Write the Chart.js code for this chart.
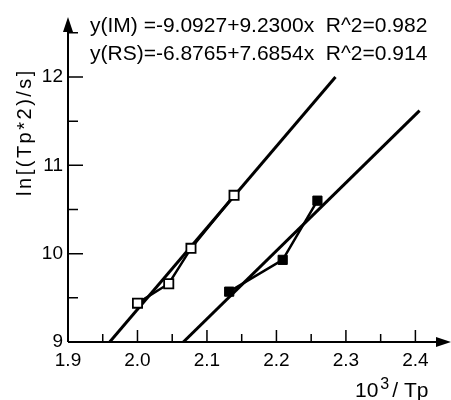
<!DOCTYPE html>
<html>
<head>
<meta charset="utf-8">
<script src="https://cdn.jsdelivr.net/npm/chart.js@4"></script>
<style>
  html, body { margin: 0; padding: 0; background: #fff; }
  #wrap { width: 451px; height: 400px; }
</style>
</head>
<body>
<div id="wrap"><canvas id="chart" width="451" height="400"></canvas></div>
<script>
// measured points (10^3/Tp, ln[(Tp^2)/s])
const imX = [2.000, 2.045, 2.077, 2.139];
const imY = [9.44, 9.66, 10.06, 10.66];
const rsX = [2.132, 2.209, 2.259];
const rsY = [9.57, 9.93, 10.60];

// fitted lines, end points
const imFitX = [1.960, 2.285];
const imFitY = [9.00, 12.00];
const rsFitX = [2.066, 2.406];
const rsFitY = [9.00, 11.62];

const equations = [
    'y(IM) =-9.0927+9.2300x  R^2=0.982',
    'y(RS)=-6.8765+7.6854x  R^2=0.914'
];
const yTitle = 'ln[(Tp*2)/s]';

const FONT = "'Liberation Sans', Arial, sans-serif";
const toPoints = (xs, ys) => xs.map((x, i) => ({ x: x, y: ys[i] }));
const isMajor = (v, step) => Math.abs(v / step - Math.round(v / step)) < 1e-6;

// axes with arrows, inward ticks, axis titles and the equation text
const axesPlugin = {
    id: 'axesPlugin',
    afterDraw(chart) {
        const ctx = chart.ctx;
        const xs = chart.scales.x, ys = chart.scales.y;
        const x0 = xs.left, y0 = ys.bottom;
        ctx.save();
        ctx.strokeStyle = '#000';
        ctx.fillStyle = '#000';
        ctx.lineWidth = 2;
        ctx.beginPath();
        ctx.moveTo(x0, y0);
        ctx.lineTo(437, y0);
        ctx.moveTo(x0, y0);
        ctx.lineTo(x0, 30);
        ctx.stroke();
        // arrow heads
        ctx.beginPath();
        ctx.moveTo(451, y0);
        ctx.lineTo(436, y0 - 5);
        ctx.lineTo(436, y0 + 5);
        ctx.closePath();
        ctx.fill();
        ctx.beginPath();
        ctx.moveTo(x0, 17);
        ctx.lineTo(x0 - 5, 32);
        ctx.lineTo(x0 + 5, 32);
        ctx.closePath();
        ctx.fill();

        ctx.lineWidth = 1.5;
        ctx.beginPath();
        xs.ticks.forEach(t => {
            if (t.value <= xs.min + 1e-9) return;
            const px = xs.getPixelForValue(t.value);
            const len = isMajor(t.value, 0.1) ? 12 : 8;
            ctx.moveTo(px, y0);
            ctx.lineTo(px, y0 - len);
        });
        ys.ticks.forEach(t => {
            if (t.value <= ys.min + 1e-9) return;
            const py = ys.getPixelForValue(t.value);
            const len = isMajor(t.value, 1) ? 15 : 10;
            ctx.moveTo(x0, py);
            ctx.lineTo(x0 + len, py);
        });
        ctx.stroke();

        ctx.textAlign = 'left';
        ctx.textBaseline = 'alphabetic';
        ctx.font = '21px ' + FONT;
        ctx.fillText(equations[0], 90, 32);
        ctx.fillText(equations[1], 90, 60);

        // x title: 10^3 / Tp
        let tx = 355;
        ctx.fillText('10', tx, 397);
        tx += ctx.measureText('10').width + 2;
        ctx.font = '16px ' + FONT;
        ctx.fillText('3', tx, 389);
        tx += ctx.measureText('3').width + 3;
        ctx.font = '21px ' + FONT;
        ctx.fillText('/ Tp', tx, 397);

        // y title, rotated
        ctx.translate(25, 132);
        ctx.rotate(-Math.PI / 2);
        ctx.font = '20px ' + FONT;
        ctx.letterSpacing = '2.5px';
        ctx.textAlign = 'center';
        ctx.textBaseline = 'middle';
        ctx.fillText(yTitle, 0, 0);
        ctx.restore();
    }
};

new Chart(document.getElementById('chart'), {
    type: 'scatter',
    data: {
        datasets: [
            {
                label: 'IM',
                data: toPoints(imX, imY),
                showLine: true,
                borderColor: '#000',
                borderWidth: 2.5,
                pointStyle: 'rect',
                pointRadius: 6.5,
                pointBorderWidth: 1.8,
                pointBackgroundColor: '#fff',
                pointBorderColor: '#000',
                order: 0
            },
            {
                label: 'RS',
                data: toPoints(rsX, rsY),
                showLine: true,
                borderColor: '#000',
                borderWidth: 2.5,
                pointStyle: 'rect',
                pointRadius: 6.5,
                pointBorderWidth: 1,
                pointBackgroundColor: '#000',
                pointBorderColor: '#000',
                order: 0
            },
            {
                label: 'IM fit',
                data: toPoints(imFitX, imFitY),
                showLine: true,
                borderColor: '#000',
                borderWidth: 3,
                pointRadius: 0,
                order: 1
            },
            {
                label: 'RS fit',
                data: toPoints(rsFitX, rsFitY),
                showLine: true,
                borderColor: '#000',
                borderWidth: 3,
                pointRadius: 0,
                order: 1
            }
        ]
    },
    options: {
        responsive: false,
        animation: false,
        layout: { padding: { left: 0, top: 18, right: 6, bottom: 0 } },
        scales: {
            x: {
                type: 'linear',
                min: 1.9,
                max: 2.4393,
                border: { display: false },
                grid: { display: false, drawTicks: false },
                ticks: {
                    stepSize: 0.05,
                    includeBounds: false,
                    autoSkip: false,
                    maxRotation: 0,
                    padding: 7,
                    color: '#000',
                    font: { family: FONT, size: 19 },
                    callback: v => isMajor(v, 0.1) ? v.toFixed(1) : ''
                },
                afterFit: s => { s.height = 58; }
            },
            y: {
                type: 'linear',
                min: 9,
                max: 12.668,
                border: { display: false },
                grid: { display: false, drawTicks: false },
                ticks: {
                    stepSize: 0.5,
                    includeBounds: false,
                    autoSkip: false,
                    padding: 5,
                    color: '#000',
                    font: { family: FONT, size: 19 },
                    callback: v => (isMajor(v, 1) && v <= 12) ? String(Math.round(v)) : ''
                },
                afterFit: s => { s.width = 68; }
            }
        },
        plugins: {
            legend: { display: false },
            tooltip: { enabled: false }
        }
    },
    plugins: [axesPlugin]
});
</script>
</body>
</html>
